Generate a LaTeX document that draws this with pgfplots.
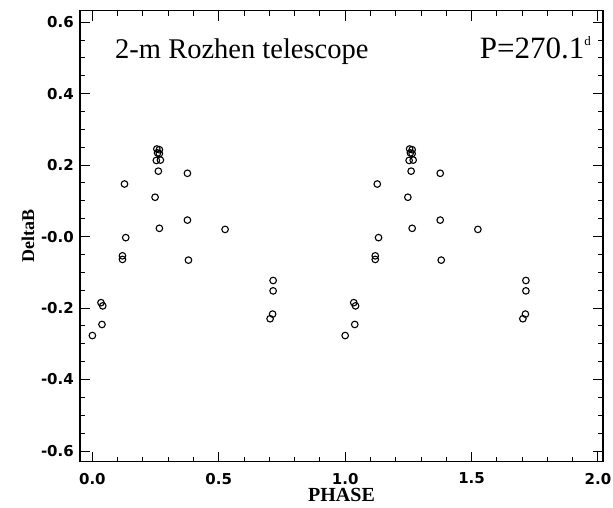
\documentclass[border=0pt]{standalone}
\usepackage{fontspec}
\setmainfont{Liberation Serif}
\setsansfont{DejaVu Sans}
\usepackage{pgfplots}
\pgfplotsset{compat=1.18}
\newcommand{\tkf}{\sffamily\bfseries\fontsize{15}{17}\selectfont}
\begin{document}
\begin{tikzpicture}
\begin{axis}[
  scale only axis,
  width=523pt, height=451pt,
  xmin=-0.049, xmax=2.02,
  ymin=-0.63, ymax=0.632,
  xtick={0,0.5,1,1.5,2},
  xticklabels={{\tkf 0.0},{\tkf 0.5},{\tkf 1.0},{\tkf 1.5},{\tkf 2.0}},
  ytick={-0.6,-0.4,-0.2,0,0.2,0.4,0.6},
  yticklabels={{\tkf -0.6},{\tkf -0.4},{\tkf -0.2},{\tkf -0.0},{\tkf 0.2},{\tkf 0.4},{\tkf 0.6}},
  minor x tick num=4,
  minor y tick num=3,
  tick align=inside,
  major tick length=10pt,
  minor tick length=5pt,
  every tick/.style={black, line width=0.9pt},
  axis line style={line width=1.4pt},
  tick label style={font=\tkf, inner sep=0pt},
  xticklabel style={anchor=north, yshift=-11pt},
  yticklabel style={anchor=east, xshift=-6pt},
  xlabel={PHASE},
  ylabel={DeltaB},
  xlabel style={font=\rmfamily\bfseries\fontsize{20}{20}\selectfont, inner sep=0pt, at={(axis description cs:0.5,0)}, anchor=north, yshift=-26pt},
  ylabel style={font=\rmfamily\bfseries\fontsize{18}{18}\selectfont, inner sep=0pt, at={(axis description cs:-0.0994,0.5)}, anchor=center},
  clip=false,
]
\addplot[only marks, mark=o, mark size=3.3pt, mark options={line width=1.1pt, black}] coordinates {
(0.000,-0.277) (0.034,-0.185) (0.041,-0.194) (0.038,-0.246)
(0.119,-0.054) (0.119,-0.064) (0.127,0.147) (0.132,-0.003)
(0.248,0.110) (0.253,0.213) (0.269,0.214) (0.261,0.183)
(0.255,0.245) (0.265,0.243) (0.258,0.234) (0.265,0.232)
(0.265,0.023) (0.376,0.177) (0.376,0.046) (0.380,-0.066)
(0.525,0.020) (0.715,-0.123) (0.715,-0.152) (0.713,-0.217) (0.703,-0.230)
(1.000,-0.277) (1.034,-0.185) (1.041,-0.194) (1.038,-0.246)
(1.119,-0.054) (1.119,-0.064) (1.127,0.147) (1.132,-0.003)
(1.248,0.110) (1.253,0.213) (1.269,0.214) (1.261,0.183)
(1.255,0.245) (1.265,0.243) (1.258,0.234) (1.265,0.232)
(1.265,0.023) (1.376,0.177) (1.376,0.046) (1.380,-0.066)
(1.525,0.020) (1.715,-0.123) (1.715,-0.152) (1.713,-0.217) (1.703,-0.230)
};
\node[anchor=base west, inner sep=0pt, font=\rmfamily\fontsize{28.5}{28.5}\selectfont] at (rel axis cs:0.067,0.893) {2-m Rozhen telescope};
\node[anchor=base east, inner sep=0pt, font=\rmfamily\fontsize{31}{31}\selectfont] at (rel axis cs:0.977,0.893) {P=270.1\raisebox{13pt}{\fontsize{13}{13}\selectfont d}};
\end{axis}
\pgfresetboundingbox
\path[use as bounding box] ([shift={(-80pt,-46.3pt)}]current axis.south west) rectangle ([shift={(10pt,10.7pt)}]current axis.north east);
\end{tikzpicture}
\end{document}
